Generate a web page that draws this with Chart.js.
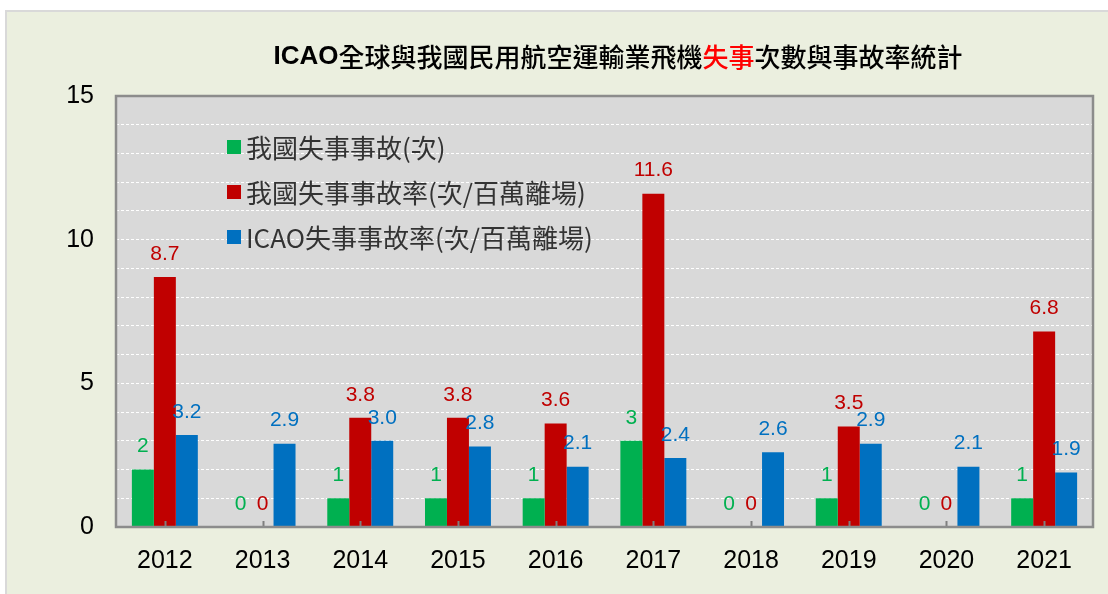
<!DOCTYPE html>
<html lang="zh-Hant">
<head>
<meta charset="UTF-8">
<title>ICAO全球與我國民用航空運輸業飛機失事次數與事故率統計</title>
<script src="https://cdn.jsdelivr.net/npm/chart.js@4.4.0/dist/chart.umd.min.js"></script>
<style>
  * { margin: 0; padding: 0; box-sizing: border-box; }
  body { width: 1108px; height: 594px; background: #fff; overflow: hidden; position: relative; }
  .frame {
    position: absolute; left: 5px; top: 10px; width: 1110px; height: 600px;
    background: #ebefdf; border-left: 2px solid #d9d9d9; border-top: 2px solid #d9d9d9;
  }
  .wrap { position: absolute; left: 0; top: 0; width: 1108px; height: 594px; }
</style>
</head>
<body>
<div class="frame"></div>
<div class="wrap"><canvas id="chart"></canvas></div>
<script>
  // 資料
  const years = ['2012', '2013', '2014', '2015', '2016', '2017', '2018', '2019', '2020', '2021'];
  const twAccidents = [2, 0, 1, 1, 1, 3, 0, 1, 0, 1];
  const twRate = [8.7, 0, 3.8, 3.8, 3.6, 11.6, 0, 3.5, 0, 6.8];
  const icaoRate = [3.2, 2.9, 3.0, 2.8, 2.1, 2.4, 2.6, 2.9, 2.1, 1.9];
  const seriesNames = ['我國失事事故(次)', '我國失事事故率(次/百萬離場)', 'ICAO失事事故率(次/百萬離場)'];
  const seriesColors = ['#00b050', '#c00000', '#0070c0'];
  const decimals = [0, 1, 1];

  const cjk = "'Noto Sans CJK TC', 'Liberation Sans', sans-serif";
  const latin = "'Liberation Sans', Arial, sans-serif";

  // 標題 (失事 紅字)
  const titlePlugin = {
    id: 'titleParts',
    afterDraw(chart) {
      const ctx = chart.ctx;
      const parts = [
        { t: 'ICAO', c: '#000', f: 'bold 26px ' + latin },
        { t: '全球與我國民用航空運輸業飛機', c: '#000', f: '500 26px ' + cjk },
        { t: '失事', c: '#ff0000', f: '500 26px ' + cjk },
        { t: '次數與事故率統計', c: '#000', f: '500 26px ' + cjk }
      ];
      ctx.save();
      ctx.textBaseline = 'middle';
      let w = 0;
      parts.forEach(p => { ctx.font = p.f; w += ctx.measureText(p.t).width; });
      let x = 618 - w / 2;
      parts.forEach(p => {
        ctx.font = p.f; ctx.fillStyle = p.c;
        ctx.fillText(p.t, x, 57);
        x += ctx.measureText(p.t).width;
      });
      ctx.restore();
    }
  };

  // 繪圖區底色
  const plotBg = {
    id: 'plotBg',
    beforeDraw(chart) {
      const a = chart.chartArea, ctx = chart.ctx;
      ctx.save();
      ctx.fillStyle = '#d9d9d9';
      ctx.fillRect(a.left, a.top, a.right - a.left, a.bottom - a.top);
      ctx.restore();
    }
  };

  // 外框、刻度、數值標籤、圖例
  const overlay = {
    id: 'overlay',
    afterDatasetsDraw(chart) {
      const a = chart.chartArea, ctx = chart.ctx;
      ctx.save();
      // inner ticks at category centers
      const xs = chart.scales.x;
      ctx.strokeStyle = '#7f7f7f'; ctx.lineWidth = 2;
      years.forEach((_, i) => {
        const px = Math.round(xs.getPixelForTick(i)) + 0.5;
        ctx.beginPath(); ctx.moveTo(px, a.bottom - 6); ctx.lineTo(px, a.bottom); ctx.stroke();
      });
      // plot border
      ctx.strokeStyle = '#8c8c8c'; ctx.lineWidth = 2.5;
      ctx.strokeRect(a.left, a.top, a.right - a.left, a.bottom - a.top);
      // value labels
      ctx.font = '21px ' + latin;
      ctx.textAlign = 'center'; ctx.textBaseline = 'middle';
      chart.data.datasets.forEach((ds, di) => {
        const meta = chart.getDatasetMeta(di);
        ctx.fillStyle = seriesColors[di];
        meta.data.forEach((bar, i) => {
          const v = ds.data[i];
          const s = v === 0 ? '0' : v.toFixed(decimals[di]);
          ctx.fillText(s, bar.x, bar.y - 23);
        });
      });
      // legend
      ctx.textAlign = 'left';
      ctx.font = '26px ' + cjk;
      seriesNames.forEach((n, i) => {
        const cy = 147 + i * 45;
        ctx.fillStyle = seriesColors[i];
        ctx.fillRect(227, cy - 7, 14, 14);
        ctx.fillStyle = '#333333';
        ctx.fillText(n, 246, cy + 1);
      });
      ctx.restore();
    }
  };

  new Chart(document.getElementById('chart'), {
    type: 'bar',
    data: {
      labels: years,
      datasets: [twAccidents, twRate, icaoRate].map((d, i) => ({
        label: seriesNames[i],
        data: d,
        backgroundColor: seriesColors[i],
        barPercentage: 1,
        categoryPercentage: 0.675
      }))
    },
    options: {
      responsive: true,
      maintainAspectRatio: false,
      animation: false,
      layout: { padding: { top: 96, right: 15, left: 0, bottom: 0 } },
      plugins: { legend: { display: false }, tooltip: { enabled: false }, title: { display: false } },
      scales: {
        x: {
          grid: { display: false, drawTicks: false },
          border: { display: false },
          ticks: { color: '#000', font: { family: latin, size: 25 }, padding: 19 },
          afterFit(s) { s.height = 67; }
        },
        y: {
          min: 0, max: 15,
          grid: { color: '#ffffff', lineWidth: 1, drawTicks: false },
          border: { display: false, dash: [3, 2] },
          ticks: {
            stepSize: 1, autoSkip: false, color: '#000', font: { family: latin, size: 25 }, padding: 22,
            callback: v => (v % 5 === 0 ? v : '')
          },
          afterFit(s) { s.width = 116; }
        }
      }
    },
    plugins: [plotBg, titlePlugin, overlay]
  });
</script>
</body>
</html>
